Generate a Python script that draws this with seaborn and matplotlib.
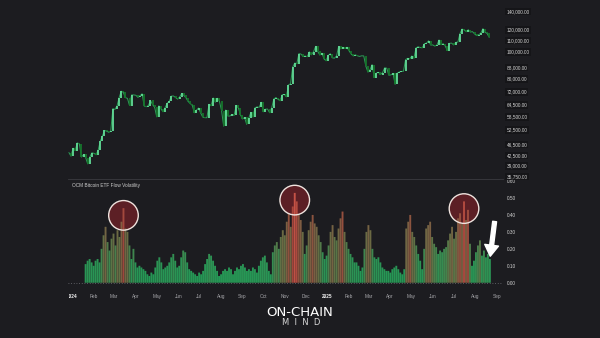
import numpy as np
import pandas as pd
import matplotlib
matplotlib.use("Agg")
import matplotlib.pyplot as plt
import matplotlib.dates as mdates
from matplotlib.colors import LinearSegmentedColormap, Normalize
from matplotlib.patches import Circle
from matplotlib.transforms import ScaledTranslation, Bbox
from matplotlib.ticker import NullLocator
import seaborn as sns

# ---------------- data ----------------
price_start = "2023-12-27"          # BTC closes sampled every 3 days
btc_close = [
    43400, 42100, 45000, 44100, 47000, 46600, 41800, 42700, 41600, 39500,
    41800, 43300, 43100, 42600, 44300, 47700, 49700, 52100, 51800, 51300,
    51700, 62400, 62000, 63800, 68300, 72100, 71400, 68400, 67900, 64000,
    69900, 69900, 69700, 68500, 69400, 70600, 63800, 63400, 64000, 66800,
    64500, 63100, 58300, 63900, 62300, 60800, 62900, 65200, 66300, 69200,
    69300, 68400, 67500, 68800, 70800, 69600, 68200, 66200, 65100, 64100,
    60300, 61600, 62700, 60200, 58200, 57900, 57900, 64700, 63900, 68200,
    65800, 68000, 66200, 61400, 54000, 61700, 58700, 58700, 59500, 59000,
    64100, 62900, 59400, 57300, 58000, 54800, 57600, 60500, 58200, 62900,
    63300, 63100, 65800, 60800, 62100, 62200, 60300, 62900, 67600, 68400,
    67400, 66600, 70000, 70200, 68800, 75900, 76700, 88000, 91000, 90500,
    98400, 98000, 96000, 96400, 95900, 99900, 97400, 100000, 104500, 100200,
    97200, 98700, 94200, 92700, 96900, 98300, 95000, 94700, 96500, 104400,
    102300, 103700, 102600, 103700, 100600, 98000, 96500, 97400, 96600, 96100,
    96600, 96500, 88700, 84400, 86100, 89900, 80700, 83700, 84300, 82700,
    84100, 87500, 87200, 82300, 82500, 83500, 76300, 83700, 84500, 84900,
    85000, 93600, 94600, 94300, 96500, 94700, 103200, 104100, 103500, 103200,
    106800, 107300, 109400, 105600, 105700, 104700, 105600, 110200, 105900, 106800,
    104600, 100900, 107100, 107300, 105700, 108000, 108200, 116000, 120500, 119800,
    117900, 119900, 117600, 118000, 115800, 114200, 115000, 116600, 121000, 117400,
    116200, 112500,
]

vol_start, vol_end = "2024-01-20", "2025-08-22"
etf_flow_vol = [
    0.11, 0.13, 0.14, 0.12, 0.10, 0.13, 0.14, 0.12, 0.20, 0.28,
    0.33, 0.24, 0.19, 0.26, 0.29, 0.22, 0.31, 0.27, 0.36, 0.44,
    0.32, 0.30, 0.22, 0.14, 0.20, 0.12, 0.09, 0.10, 0.09, 0.08,
    0.07, 0.05, 0.04, 0.06, 0.05, 0.09, 0.13, 0.15, 0.12, 0.08,
    0.09, 0.10, 0.12, 0.15, 0.17, 0.13, 0.09, 0.10, 0.15, 0.19,
    0.18, 0.12, 0.08, 0.07, 0.06, 0.05, 0.04, 0.06, 0.05, 0.07,
    0.11, 0.14, 0.17, 0.16, 0.13, 0.10, 0.07, 0.04, 0.05, 0.07,
    0.08, 0.07, 0.09, 0.08, 0.05, 0.07, 0.09, 0.08, 0.10, 0.11,
    0.09, 0.07, 0.08, 0.07, 0.09, 0.08, 0.06, 0.10, 0.13, 0.15,
    0.16, 0.12, 0.07, 0.05, 0.18, 0.22, 0.24, 0.20, 0.27, 0.31,
    0.28, 0.36, 0.41, 0.33, 0.45, 0.53, 0.48, 0.40, 0.37, 0.30,
    0.17, 0.22, 0.31, 0.36, 0.40, 0.35, 0.33, 0.28, 0.24, 0.18,
    0.14, 0.16, 0.22, 0.30, 0.34, 0.27, 0.25, 0.32, 0.38, 0.42,
    0.30, 0.24, 0.20, 0.17, 0.15, 0.12, 0.12, 0.10, 0.07, 0.09,
    0.20, 0.30, 0.34, 0.31, 0.20, 0.15, 0.14, 0.15, 0.12, 0.09,
    0.08, 0.07, 0.07, 0.06, 0.08, 0.09, 0.10, 0.08, 0.06, 0.05,
    0.08, 0.32, 0.36, 0.40, 0.30, 0.27, 0.22, 0.17, 0.13, 0.08,
    0.20, 0.32, 0.34, 0.36, 0.27, 0.23, 0.21, 0.17, 0.19, 0.18,
    0.20, 0.21, 0.25, 0.29, 0.33, 0.26, 0.30, 0.38, 0.41, 0.35,
    0.48, 0.37, 0.43, 0.23, 0.10, 0.13, 0.18, 0.22, 0.25, 0.16,
    0.19, 0.15, 0.17, 0.14,
]

price_ticks = [140000, 120000, 110000, 100000, 88000, 80000, 72000,
               64500, 58500, 52500, 46500, 42500, 39000, 35750]
vol_ticks = [0.0, 0.1, 0.2, 0.3, 0.4, 0.5, 0.6]
month_starts = pd.date_range("2024-01-01", "2025-09-01", freq="MS")
month_labels = [d.strftime("%Y") if d.month == 1 else d.strftime("%b") for d in month_starts]

title = "OCM Bitcoin ETF Flow Volatility"
brand_top, brand_bottom = "ON-CHAIN", "M  I  N  D"

# ---------------- style ----------------
BG = "#1c1c20"
sns.set_theme(style="dark", rc={
    "figure.facecolor": BG, "axes.facecolor": BG, "savefig.facecolor": BG,
    "axes.grid": False, "patch.edgecolor": "none", "patch.force_edgecolor": False,
    "xtick.color": "#a9a9ad", "ytick.color": "#d2d2d2",
})
plt.rcParams["font.family"] = ["Liberation Sans", "DejaVu Sans"]

W, H = 600, 338
fig = plt.figure(figsize=(W / 100, H / 100), dpi=100)
ax_p = fig.add_axes([68 / W, 1 - 179 / H, 435 / W, 179 / H])
ax_v = fig.add_axes([68 / W, 1 - 288 / H, 435 / W, 109 / H])
ax_p.set_zorder(3)

jan1 = pd.Timestamp("2024-01-01")
xlim = (jan1 - pd.Timedelta(days=6.3), jan1 + pd.Timedelta(days=617.8))

# ---------------- price panel ----------------
close = np.array(btc_close, dtype=float)
pdates = pd.date_range(price_start, periods=len(close), freq="3D")
dfp = pd.DataFrame({"date": pdates, "close": close})
sns.lineplot(data=dfp, x="date", y="close", ax=ax_p, color="#2c9c58", lw=0.7, zorder=2)
prev = np.r_[close[0], close[:-1]]
up = close >= prev
ax_p.vlines(pdates[up], prev[up], close[up], color="#62dc98", lw=1.3, zorder=3)
ax_p.vlines(pdates[~up], prev[~up], close[~up], color="#16752c", lw=1.3, zorder=3)

ax_p.set_yscale("log")
ax_p.set_ylim(34860, 153300)
ax_p.set_xlim(*xlim)
ax_p.yaxis.set_minor_locator(NullLocator())
ax_p.set_yticks(price_ticks)
ax_p.set_yticklabels([f"{v:,.2f}" for v in price_ticks])
ax_p.yaxis.tick_right()
ax_p.tick_params(axis="y", labelsize=3.4, length=0, pad=2.5, labelcolor="#d4d4d4")
ax_p.tick_params(axis="x", labelbottom=False, length=0)
ax_p.set_xlabel(""); ax_p.set_ylabel("")
for s in ax_p.spines.values():
    s.set_visible(False)
for lab in ax_p.get_yticklabels():
    lab.set_bbox(dict(facecolor="#151518", edgecolor="none", pad=0.9))

# ---------------- volatility panel ----------------
vol = np.array(etf_flow_vol)
vdates = pd.date_range(vol_start, vol_end, periods=len(vol))
step = (vdates[1] - vdates[0]) / pd.Timedelta(days=1)
cmap = LinearSegmentedColormap.from_list("flow", [
    (0.0, "#22a85c"), (0.3, "#2fa05a"), (0.5, "#667c4a"),
    (0.7, "#8a6446"), (0.85, "#b24b3f"), (1.0, "#d2584a")])
colors = cmap(Normalize(0.0, 0.53)(vol))
ax_v.axhline(0, color="#707076", ls=(0, (1, 2.2)), lw=0.6, zorder=1)
ax_v.bar(vdates, vol, width=step * 0.95, color=colors, alpha=0.9,
         edgecolor="none", linewidth=0, snap=False, zorder=3)

ax_v.set_xlim(*xlim)
ax_v.set_ylim(-0.031, 0.612)
ax_v.set_yticks(vol_ticks)
ax_v.set_yticklabels([f"{v:.2f}" for v in vol_ticks])
ax_v.yaxis.tick_right()
ax_v.tick_params(axis="y", labelsize=3.4, length=0, pad=2.5, labelcolor="#d4d4d4")
ax_v.set_xticks(month_starts)
ax_v.set_xticklabels(month_labels)
ax_v.tick_params(axis="x", labelsize=3.4, length=0, pad=4.5, labelcolor="#a9a9ad")
for s in ["left", "right", "bottom"]:
    ax_v.spines[s].set_visible(False)
ax_v.spines["top"].set_color("#3a3a40")
ax_v.spines["top"].set_linewidth(0.6)

clip = Bbox.from_extents(ax_v.bbox.x0 + 1, 0, W, H)
for d, lab in zip(month_starts, ax_v.get_xticklabels()):
    if d.month == 1:
        lab.set_fontweight("bold")
        lab.set_color("#f2f2f2")
    lab.set_clip_box(clip)
    lab.set_clip_on(True)

ax_v.text(0.009, 0.938, title, transform=ax_v.transAxes, fontsize=3.4,
          color="#cfcfcf", va="center", ha="left")

# highlight rings around the three volatility peaks
peaks = [int(np.argmax(vol[:60])), int(np.argmax(vol[60:150])) + 60,
         int(np.argmax(vol[150:])) + 150]
for i in peaks:
    tr = fig.dpi_scale_trans + ScaledTranslation(
        mdates.date2num(vdates[i]), vol[i], ax_v.transData)
    ax_v.add_patch(Circle((0, -0.072), 0.148, transform=tr, facecolor="#5c1f25",
                          edgecolor="none", zorder=2, clip_on=False))
    ax_v.add_patch(Circle((0, -0.072), 0.148, transform=tr, facecolor="none",
                          edgecolor="#efe3de", lw=1.0, zorder=4, clip_on=False))

# arrow pointing at the latest reading
ax_v.annotate("", xy=(vdates[-1], vol[-1]), xytext=(3.4, 27),
              textcoords="offset points",
              arrowprops=dict(arrowstyle="simple,head_width=1.0,head_length=0.8,tail_width=0.28",
                              color="white", shrinkA=0, shrinkB=2, mutation_scale=10),
              zorder=5)

# brand mark
fig.text(0.5, 1 - 312 / H, brand_top, ha="center", va="center", fontsize=9.5,
         color="white", family=["DejaVu Sans"])
fig.text(0.502, 1 - 322.5 / H, brand_bottom, ha="center", va="center", fontsize=6,
         color="#d8d8d8", family=["DejaVu Sans"])

fig.savefig("out.png", dpi=100, facecolor=BG)
